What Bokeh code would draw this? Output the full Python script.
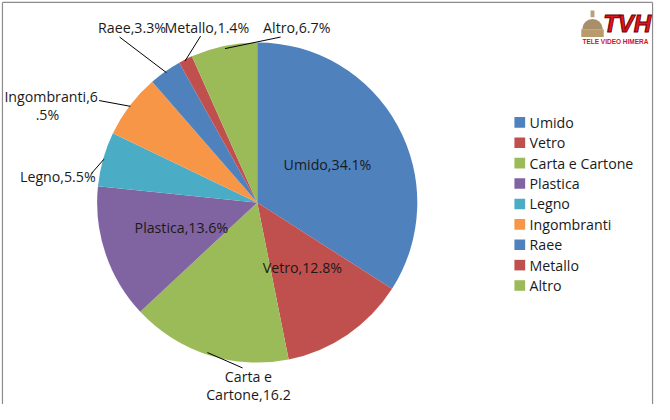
import numpy as np
from bokeh.plotting import figure
from bokeh.models import Range1d, ColumnDataSource
from bokeh.embed import file_html
from bokeh.resources import INLINE
from bokeh.core.properties import value

# ---- data ----
categories = ["Umido", "Vetro", "Carta e Cartone", "Plastica", "Legno",
              "Ingombranti", "Raee", "Metallo", "Altro"]
values = [34.1, 12.8, 16.2, 13.6, 5.5, 6.5, 3.3, 1.4, 6.7]
colors = ["#4F81BD", "#C0504D", "#9BBB59", "#8064A2", "#4BACC6",
          "#F79646", "#4F81BD", "#C0504D", "#9BBB59"]

FONT = value("Open Sans")
FS = "14.2px"

W, H = 654, 404
def Y(y):  # reference-pixel y to data y
    return 420 - y

p = figure(width=W, height=H, output_backend="svg", toolbar_location=None,
           x_range=Range1d(0, 670), y_range=Range1d(0, 420),
           x_axis_type=None, y_axis_type=None, min_border=0,
           background_fill_color="white", border_fill_color="white")
p.grid.visible = False
p.outline_line_color = None

# chart-area border (left, top, right; bottom is cropped in the reference)
p.segment(x0=[2, 2, 668], y0=[Y(420), Y(2), Y(2)], x1=[2, 668, 668], y1=[Y(2), Y(2), Y(420)],
          line_color="#8c8c8c", line_width=1.2)

# ---- pie ----
cx, cy, R = 263, Y(210), 164
vals = np.array(values, dtype=float)
frac = vals / vals.sum()
cum = np.concatenate([[0], np.cumsum(frac)])
start = np.pi / 2 - 2 * np.pi * cum[1:]
end = np.pi / 2 - 2 * np.pi * cum[:-1]
src = ColumnDataSource(dict(start=start, end=end, color=colors, cat=categories))
p.wedge(x=cx, y=cy, radius=R, start_angle="start", end_angle="end",
        fill_color="color", line_color=None, source=src)

# ---- inside labels (Umido, Vetro, Plastica) ----
mid = (cum[:-1] + cum[1:]) / 2 * 2 * np.pi
inside = [0, 1, 3]
rin = 82
ix = [cx + rin * np.sin(mid[i]) for i in inside]
iy = [cy + rin * np.cos(mid[i]) for i in inside]
itxt = [f"{categories[i]},{values[i]}%" for i in inside]
p.text(x=ix, y=iy, text=itxt, text_align="center", text_baseline="middle",
       text_font=FONT, text_font_size=FS, text_color="#1a1a1a")

# ---- outside labels ----
def lab(i):
    return f"{categories[i]},{values[i]}%"

out_txt = ["Raee,3.3%", "Metallo,1.4%", lab(8), lab(4), "Ingombranti,6", ".5%",
           "Carta e", "Cartone,16.2"]
out_x = [100, 168, 269, 20, 4, 36, 254, 254]
out_y = [Y(28), Y(28), Y(28), Y(183), Y(100), Y(119), Y(391), Y(410)]
out_align = ["left", "left", "left", "left", "left", "left", "center", "center"]
p.text(x=out_x, y=out_y, text=out_txt, text_align=out_align, text_baseline="middle",
       text_font=FONT, text_font_size=FS, text_color="#1a1a1a")

# leader lines
lx0 = [122, 205, 287, 101, 93, 212]
ly0 = [38, 37, 38, 104, 180, 366]
lx1 = [170, 189, 230, 133, 106, 248]
ly1 = [75, 63, 50, 110, 165, 382]
p.segment(x0=lx0, y0=[Y(v) for v in ly0], x1=lx1, y1=[Y(v) for v in ly1],
          line_color="black", line_width=1)

# ---- legend ----
leg_y = [Y(126.7 + 21.2 * k) for k in range(len(categories))]
p.rect(x=[532] * len(categories), y=leg_y, width=11, height=11,
       fill_color=colors, line_color=None)
p.text(x=[542] * len(categories), y=leg_y, text=categories, text_align="left",
       text_baseline="middle", text_font=FONT, text_font_size=FS, text_color="#1a1a1a")

# ---- logo ----
p.rect(x=[606.5], y=[Y(34)], width=23, height=8, fill_color="#b99a6a", line_color=None)
p.wedge(x=[606.5], y=[Y(30)], radius=10.5, start_angle=0, end_angle=np.pi,
        fill_color="#a88f6a", line_color=None)
p.rect(x=[606.5], y=[Y(14)], width=4, height=7, fill_color="#b8a27e", line_color=None)
p.text(x=[642], y=[Y(24)], text=["TVH"], text_align="center", text_baseline="middle",
       text_font=value("Liberation Sans"), text_font_style="bold italic",
       text_font_size="24px", text_color="#e3141c", text_outline_color="#6b0000")
p.text(x=[630], y=[Y(43)], text=["TELE VIDEO HIMERA"], text_align="center",
       text_baseline="middle", text_font=value("Liberation Sans"),
       text_font_style="bold", text_font_size="6.5px", text_color="#d0141c")

open("out.html", "w").write(file_html(p, INLINE))
